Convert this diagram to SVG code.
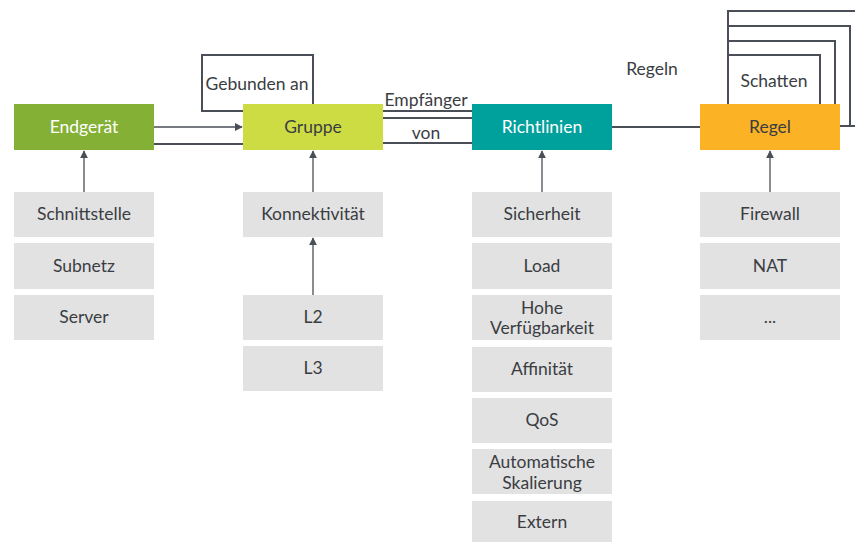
<svg xmlns="http://www.w3.org/2000/svg" width="855" height="542" viewBox="0 0 855 542">
<style>
text{font-family:Lato,"Open Sans","Liberation Sans",sans-serif;font-size:17.5px;fill:#3a3d42;text-anchor:middle}
.g{fill:#e2e2e2}
.c{fill:none;stroke:#4a4f57;stroke-width:2}
.t{fill:none;stroke:#4a4f57;stroke-width:1.3}
</style>
<defs>
<marker id="ah" viewBox="0 0 10 10" refX="9" refY="5" markerWidth="8" markerHeight="8" markerUnits="userSpaceOnUse" orient="auto">
<path d="M0,0L10,5L0,10z" fill="#4a4f57"/>
</marker>
</defs>
<rect width="855" height="542" fill="#ffffff"/>
<g id="connectors">
<path class="t" d="M154,127H242" marker-end="url(#ah)"/>
<path class="c" d="M154,144H243"/>
<path class="c" d="M243,111H202V55H313V104"/>
<path class="c" d="M383,111H472M383,118H472M383,143H472"/>
<path class="c" d="M612,127H700" stroke="#5a5f66"/>
<path class="c" d="M728,104V11H855M728,26H850V126H840M850,126H855M728,41H835V104M728,55H820V104"/>
<path class="t" d="M84,192V151" marker-end="url(#ah)"/>
<path class="t" d="M313,192V151" marker-end="url(#ah)"/>
<path class="t" d="M313,295V238" marker-end="url(#ah)"/>
<path class="t" d="M542,192V151" marker-end="url(#ah)"/>
<path class="t" d="M770,192V151" marker-end="url(#ah)"/>
<text x="257" y="90">Gebunden an</text>
<text x="426" y="106">Empfänger</text>
<text x="426" y="139">von</text>
<text x="652" y="75">Regeln</text>
<text x="774" y="87">Schatten</text>
</g>
<g id="endgeraet"><rect x="14" y="104" width="140" height="46" fill="#84b135"/><text x="84" y="133" style="fill:#fff">Endgerät</text></g>
<g id="gruppe"><rect x="243" y="104" width="140" height="46" fill="#cedc44"/><text x="313" y="133">Gruppe</text></g>
<g id="richtlinien"><rect x="472" y="104" width="140" height="46" fill="#00a19c"/><text x="542" y="133" style="fill:#fff">Richtlinien</text></g>
<g id="regel"><rect x="700" y="104" width="140" height="46" fill="#fbb224"/><text x="770" y="133">Regel</text></g>
<g id="schnittstelle"><rect class="g" x="14" y="192" width="140" height="45"/><text x="84" y="220">Schnittstelle</text></g>
<g id="subnetz"><rect class="g" x="14" y="243" width="140" height="46"/><text x="84" y="272">Subnetz</text></g>
<g id="server"><rect class="g" x="14" y="295" width="140" height="45"/><text x="84" y="323">Server</text></g>
<g id="konnektivitaet"><rect class="g" x="243" y="192" width="140" height="45"/><text x="313" y="220">Konnektivität</text></g>
<g id="l2"><rect class="g" x="243" y="295" width="140" height="45"/><text x="313" y="323">L2</text></g>
<g id="l3"><rect class="g" x="243" y="346" width="140" height="45"/><text x="313" y="374">L3</text></g>
<g id="sicherheit"><rect class="g" x="472" y="192" width="140" height="45"/><text x="542" y="220">Sicherheit</text></g>
<g id="load"><rect class="g" x="472" y="243" width="140" height="46"/><text x="542" y="272">Load</text></g>
<g id="hohe"><rect class="g" x="472" y="295" width="140" height="45"/><text x="542" y="314">Hohe</text><text x="542" y="334">Verfügbarkeit</text></g>
<g id="affinitaet"><rect class="g" x="472" y="347" width="140" height="45"/><text x="542" y="375">Affinität</text></g>
<g id="qos"><rect class="g" x="472" y="398" width="140" height="45"/><text x="542" y="426">QoS</text></g>
<g id="auto"><rect class="g" x="472" y="449" width="140" height="45"/><text x="542" y="468">Automatische</text><text x="542" y="489">Skalierung</text></g>
<g id="extern"><rect class="g" x="472" y="501" width="140" height="41"/><text x="542" y="528">Extern</text></g>
<g id="firewall"><rect class="g" x="700" y="192" width="140" height="45"/><text x="770" y="220">Firewall</text></g>
<g id="nat"><rect class="g" x="700" y="243" width="140" height="46"/><text x="770" y="272">NAT</text></g>
<g id="more"><rect class="g" x="700" y="295" width="140" height="45"/><text x="770" y="323">...</text></g>
</svg>
